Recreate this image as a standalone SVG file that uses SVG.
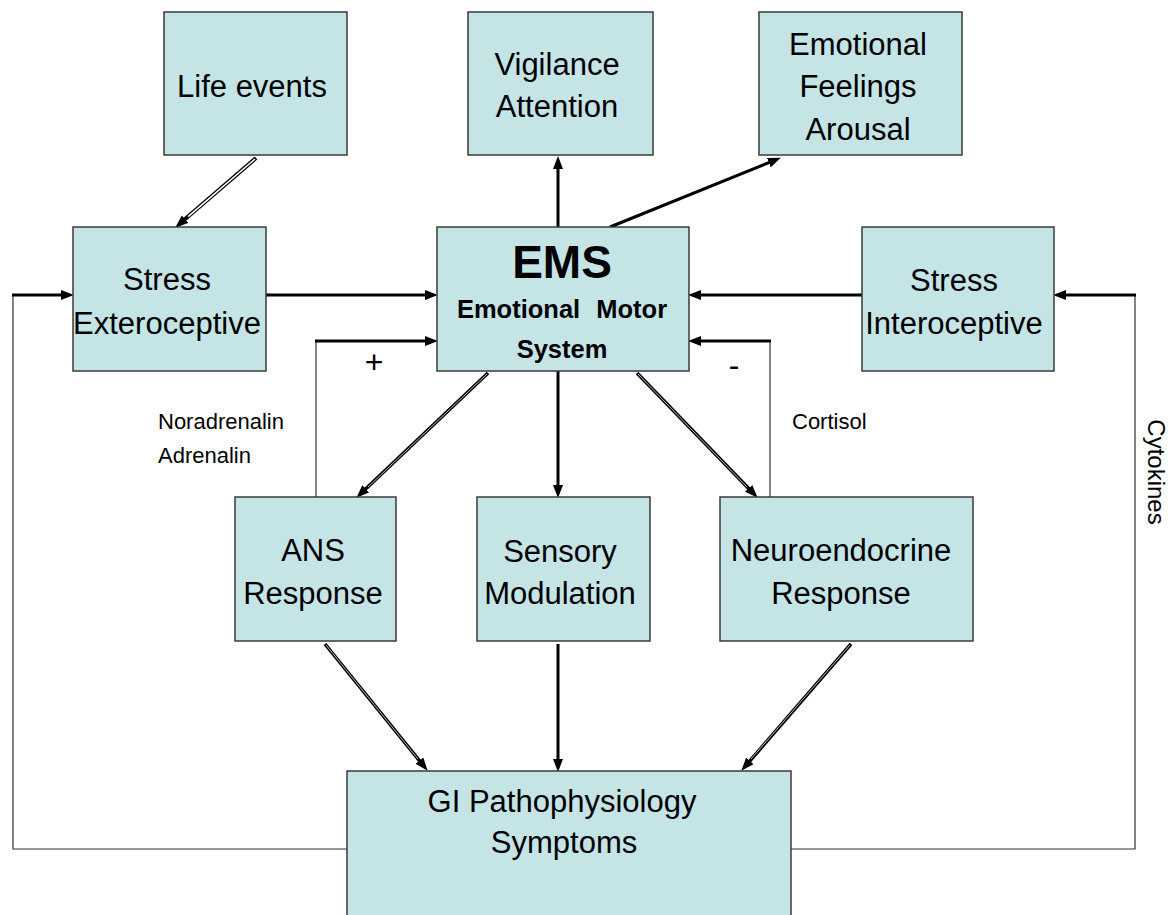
<svg xmlns="http://www.w3.org/2000/svg" width="1171" height="915" viewBox="0 0 1171 915">
<style>
.box{fill:#c4e4e6;stroke:#3a3a3a;stroke-width:1.5}
.t{font-family:"Liberation Sans",Arial,sans-serif;font-size:31px;fill:#000;text-anchor:middle}
.b{font-family:"Liberation Sans",Arial,sans-serif;font-weight:bold;fill:#000;text-anchor:middle}
.s{font-family:"Liberation Sans",Arial,sans-serif;font-size:22px;fill:#000}
.sign{font-family:"Liberation Sans",Arial,sans-serif;font-size:32px;fill:#000;text-anchor:middle}
.rot{font-family:"Liberation Sans",Arial,sans-serif;font-size:24px;fill:#000;text-anchor:middle}
.thick{fill:none;stroke:#000;stroke-width:3}
.thin{fill:none;stroke:#333;stroke-width:1.2}
.dbl{fill:none;stroke:#000;stroke-width:3.5}
.inner{fill:none;stroke:#bbb;stroke-width:1}
.innerw{fill:none;stroke:#fff;stroke-width:1.6}
</style>
<defs>
<marker id="ah" markerUnits="userSpaceOnUse" markerWidth="14" markerHeight="12" refX="6" refY="5" orient="auto">
<path d="M0,0 L13,5 L0,10 z" fill="#000"/>
</marker>
</defs>
<rect width="1171" height="915" fill="#fff"/>

<g id="connectors">
<!-- Life events -> Stress Exteroceptive -->
<path class="dbl" d="M256,158 L180.5,223.1" marker-end="url(#ah)" style="stroke-width:4"/>
<path class="innerw" d="M255,159 L188.1,216.6"/>
<!-- left feedback loop -->
<path class="thin" d="M347,849 H13 V295"/>
<path class="thick" d="M12,295 H67" marker-end="url(#ah)"/>
<!-- Stress Ext -> EMS -->
<path class="thick" d="M266,295 H431" marker-end="url(#ah)"/>
<!-- ANS feedback + -->
<path class="thin" d="M316,497 V341"/>
<path class="thick" d="M315,341 H431" marker-end="url(#ah)"/>
<!-- EMS -> Vigilance -->
<path class="thick" d="M558,227 V163" marker-end="url(#ah)"/>
<!-- EMS -> Emotional -->
<path class="thick" d="M610,227 L774.4,160.3" marker-end="url(#ah)"/>
<!-- Interoceptive -> EMS -->
<path class="thick" d="M862,295 H695" marker-end="url(#ah)"/>
<!-- right feedback loop -->
<path class="thin" d="M791,849 H1135 V295"/>
<path class="thick" d="M1136,295 H1060" marker-end="url(#ah)"/>
<!-- Neuro feedback - -->
<path class="thin" d="M770,497 V341"/>
<path class="thick" d="M771,341 H695" marker-end="url(#ah)"/>
<!-- EMS -> ANS -->
<path class="dbl" d="M488,373 L361.4,492.9" marker-end="url(#ah)"/>
<path class="inner" d="M487,374 L368,487"/>
<!-- EMS -> Sensory -->
<path class="thick" d="M558,371 V491" marker-end="url(#ah)"/>
<!-- EMS -> Neuro -->
<path class="dbl" d="M637,373 L752.8,492.7" marker-end="url(#ah)"/>
<path class="inner" d="M638,374 L747,487"/>
<!-- ANS -> GI -->
<path class="dbl" d="M325,644 L423.2,765.3" marker-end="url(#ah)"/>
<path class="inner" d="M326,645 L418,759"/>
<!-- Sensory -> GI -->
<path class="thick" d="M558,644 V765" marker-end="url(#ah)"/>
<!-- Neuro -> GI -->
<path class="dbl" d="M851,644 L745.9,765.5" marker-end="url(#ah)"/>
<path class="inner" d="M850,645 L751,759"/>
</g>

<g id="life-events">
<rect class="box" x="164" y="12" width="183" height="143"/>
<text class="t" x="252" y="97">Life events</text>
</g>
<g id="vigilance">
<rect class="box" x="468" y="12" width="185" height="143"/>
<text class="t" x="557" y="75">Vigilance</text>
<text class="t" x="557" y="117">Attention</text>
</g>
<g id="emotional-feelings">
<rect class="box" x="759" y="12" width="203" height="143"/>
<text class="t" x="858" y="55">Emotional</text>
<text class="t" x="858" y="97">Feelings</text>
<text class="t" x="858" y="140">Arousal</text>
</g>
<g id="stress-exteroceptive">
<rect class="box" x="73" y="227" width="193" height="144"/>
<text class="t" x="167" y="290">Stress</text>
<text class="t" x="167" y="334">Exteroceptive</text>
</g>
<g id="ems">
<rect class="box" x="437" y="227" width="252" height="144"/>
<text class="b" x="562" y="278" font-size="46">EMS</text>
<text class="b" x="562" y="318" font-size="25.5" word-spacing="9">Emotional Motor</text>
<text class="b" x="562" y="358" font-size="25.5">System</text>
</g>
<g id="stress-interoceptive">
<rect class="box" x="862" y="227" width="192" height="144"/>
<text class="t" x="954" y="291">Stress</text>
<text class="t" x="954" y="334">Interoceptive</text>
</g>
<g id="ans-response">
<rect class="box" x="235" y="497" width="161" height="144"/>
<text class="t" x="313" y="561">ANS</text>
<text class="t" x="313" y="604">Response</text>
</g>
<g id="sensory-modulation">
<rect class="box" x="477" y="497" width="173" height="144"/>
<text class="t" x="560" y="562">Sensory</text>
<text class="t" x="560" y="604">Modulation</text>
</g>
<g id="neuroendocrine-response">
<rect class="box" x="720" y="497" width="253" height="144"/>
<text class="t" x="841" y="561">Neuroendocrine</text>
<text class="t" x="841" y="604">Response</text>
</g>
<g id="gi-pathophysiology">
<rect class="box" x="347" y="771" width="444" height="160"/>
<text class="t" x="562" y="812">GI Pathophysiology</text>
<text class="t" x="564" y="853">Symptoms</text>
</g>

<g id="labels">
<text class="s" x="158" y="429">Noradrenalin</text>
<text class="s" x="158" y="463">Adrenalin</text>
<text class="s" x="792" y="429">Cortisol</text>
<text class="sign" x="374" y="373">+</text>
<text class="sign" x="734" y="376">-</text>
<text class="rot" transform="translate(1148,472) rotate(90)" x="0" y="0">Cytokines</text>
</g>
</svg>
